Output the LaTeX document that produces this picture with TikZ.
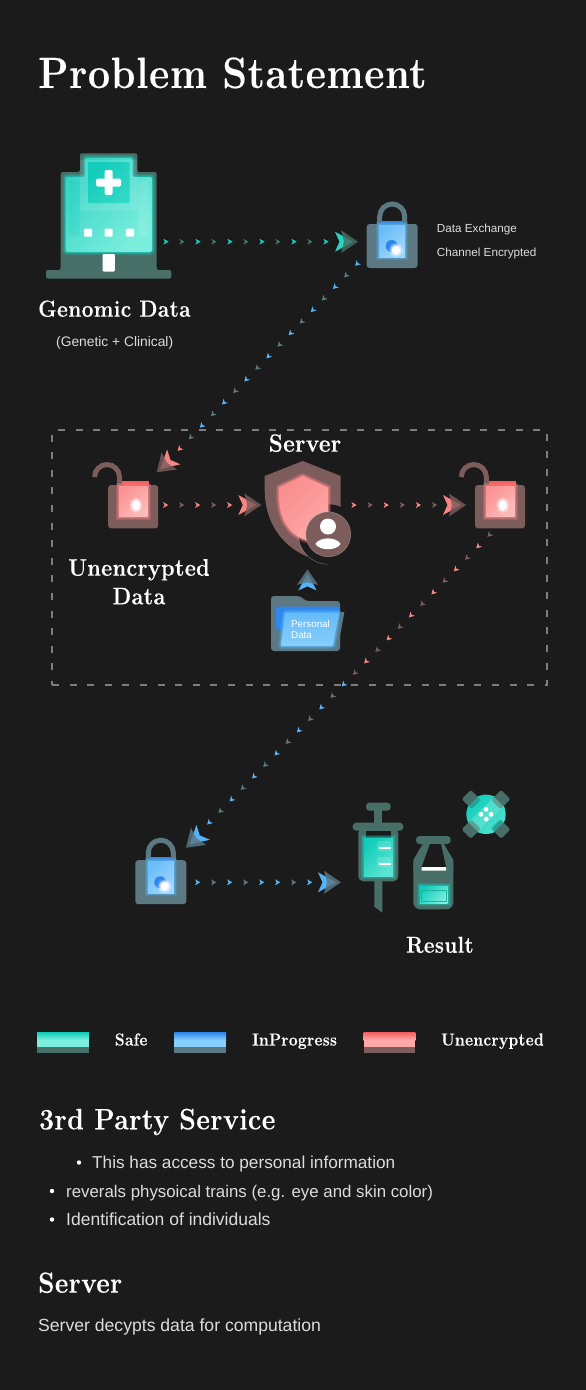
\documentclass[tikz,border=0pt]{standalone}
\usepackage{fontspec}
\setmainfont{Liberation Sans}
\newfontfamily\headf[LetterSpace=1.5,FakeStretch=.9,FakeBold=.25]{Latin Modern Roman}
\usetikzlibrary{calc,shadings}
\definecolor{bgc}{HTML}{1B1B1B}
\definecolor{tealA}{HTML}{12CDBB}
\definecolor{tealB}{HTML}{7CEEDD}
\definecolor{tealD}{HTML}{486E68}
\definecolor{blueA}{HTML}{2F86EC}
\definecolor{blueM}{HTML}{55B4F8}
\definecolor{blueB}{HTML}{86CEFC}
\definecolor{blueD}{HTML}{5B7883}
\definecolor{redA}{HTML}{F46060}
\definecolor{redM}{HTML}{F98484}
\definecolor{redB}{HTML}{FFA8A8}
\definecolor{redD}{HTML}{7D5C5C}
\definecolor{txtc}{HTML}{DCDCDC}
\definecolor{framec}{HTML}{7E7E7E}
\tikzset{
  x=1pt,y=-1pt,
  glow/.style={preaction={draw=#1,line width=6pt,draw opacity=.22},
               preaction={draw=#1,line width=4pt,draw opacity=.3},
               preaction={draw=#1,line width=2pt,draw opacity=.45}},
  grad/.style 2 args={shading=axis,top color=#1,bottom color=#2,shading angle=45},
  head/.style={anchor=base west,text=white,inner sep=0pt,font=\headf\bfseries\fontsize{#1}{#1}\selectfont},
  headc/.style={anchor=base,text=white,inner sep=0pt,align=center,font=\headf\bfseries\fontsize{#1}{#1}\selectfont},
  body/.style={anchor=base west,text=txtc,inner sep=0pt,font=\fontsize{#1}{#1}\selectfont},
  chev/.pic={\fill[#1] (-2.6,-3) -- (2.6,0) -- (-2.6,3) -- (-1.2,0) -- cycle;},
  bigarrow/.pic={
    \fill[#1] (-23,-10) -- (-5,0) -- (-23,10) -- (-18.5,0) -- cycle;},
  biggrey/.pic={
    \fill[#1,fill opacity=.82] (-17,-11.5) -- (0,0) -- (-17,11.5) -- (-14,0) -- cycle;},
  pics/lockclosed/.style n args={3}{code={
    \draw[line width=5pt,#1] (-12.5,-20) -- (-12.5,-29.5) .. controls (-12.5,-36.4) and (-6.9,-42) .. (0,-42) .. controls (6.9,-42) and (12.5,-36.4) .. (12.5,-29.5) -- (12.5,-20);
    \fill[#1,rounded corners=3pt] (-25.5,-22) rectangle (25.5,22);
    \fill[#2] (-10.5,-25.3) rectangle (10.5,-22);
    \shade[glow=#3,grad={#3!88!white}{#3!55!white}] (-13,-21) rectangle (13,11);
    \fill[#2] (-.5,0) circle (6);
    \fill[white,glow=white] (3.8,4) circle (4);
  }},
  pics/lockopen/.style n args={3}{code={
    \draw[line width=5pt,#1] (-38.7,-29.7) .. controls (-38.7,-36.6) and (-33.1,-42.2) .. (-26.2,-42.2) .. controls (-19.3,-42.2) and (-13.7,-36.6) .. (-13.7,-29.7) -- (-13.7,-20);
    \fill[#1,rounded corners=3pt] (-25,-21.7) rectangle (25,21.7);
    \fill[#2] (-11.5,-25.7) rectangle (16,-21.7);
    \shade[glow=#3,grad={#3!88!white}{#3!55!white}] (-14,-20.5) rectangle (14.5,10);
    \draw[#3!70!white,line width=.7pt] (-.5,-.7) circle (6);
    \fill[white,glow=white] (2.8,-1.4) ellipse (3.6 and 4.8);
  }},
  swatchtop/.style 2 args={shading=axis,top color=#1,bottom color=#2},
}
\newcommand\dotchain[5]{%
  \foreach \i/\c in {#5} {
    \pgfmathsetmacro\p{\i/#3}
    \pic[rotate=#4] at ($(#1)!\p!(#2)$) {chev=\c};
  }}
\begin{document}
\begin{tikzpicture}
\useasboundingbox (0,0) rectangle (586,1390);
\fill[bgc] (0,0) rectangle (586,1390);

% ---- named anchors of the connectors
\coordinate (rowAa) at (166,241.7);   \coordinate (rowAb) at (326,241.7);   \coordinate (tipA) at (358,241.7);
\coordinate (diagAa) at (357,264);    \coordinate (diagAb) at (179.5,449);  \coordinate (tipB) at (156.7,472.3);
\coordinate (rowBa) at (165.7,505);   \coordinate (rowBb) at (229.7,505);   \coordinate (tipC) at (261.3,505);
\coordinate (rowCa) at (354,505);     \coordinate (rowCb) at (434.6,505);   \coordinate (tipD) at (466,505);
\coordinate (diagBa) at (489.3,535);  \coordinate (diagBb) at (209,822.7);  \coordinate (tipE) at (186,847.7);
\coordinate (rowDa) at (197.7,882.3); \coordinate (rowDb) at (309.7,882.3); \coordinate (tipF) at (341,882.3);
\coordinate (tipG) at (307.5,569.3);

% ---- dashed server frame
\node[draw=framec,line width=1.1pt,dash pattern=on 7pt off 10.6pt,minimum width=495pt,minimum height=255pt,inner sep=0pt] (frame) at (299.5,557.5) {};

% ---- titles
\node[head=43.8] (title) at (38,88) {Problem Statement};
\node[head=23.3] (genomic) at (38,316.7) {Genomic Data};
\node[body=13.8] (genetic) at (56,346.5) {(Genetic + Clinical)};
\node[body=11.7] (exA) at (436.7,232) {Data Exchange};
\node[body=11.7] (exB) at (436.7,256) {Channel Encrypted};
\node[headc=25] (server) at (305,451.7) {Server};
\node[headc=24] (unenA) at (139,575.7) {Unencrypted};
\node[headc=24] (unenB) at (139,604.3) {Data};
\node[head=23] (result) at (406,952.7) {Result};

% ---- hospital
\fill[tealD,rounded corners=2pt] (80,153.3) -- (137.3,153.3) -- (137.3,172) -- (156.7,172) -- (156.7,270) -- (171.3,270) -- (171.3,278.5) -- (46,278.5) -- (46,270) -- (60.7,270) -- (60.7,172) -- (80,172) -- cycle;
\shade[glow=tealA,grad={tealA!85!white}{tealB},rounded corners=2pt] (85,158) -- (132.5,158) -- (132.5,177) -- (152,177) -- (152,252) -- (65.5,252) -- (65.5,177) -- (85,177) -- cycle;
\fill[white,fill opacity=.1,rounded corners=1pt] (80,160) rectangle (137.3,211);
\shade[grad={tealA}{tealA!70!tealB},rounded corners=1pt] (88,162) rectangle (129.5,203);
\fill[tealA,fill opacity=.2,rounded corners=1pt] (69,181) rectangle (79.5,235);
\fill[white,fill opacity=.1,rounded corners=1pt] (138,181) rectangle (148.5,235);
\fill[white,rounded corners=1.5pt] (104.6,170) rectangle (112.6,195);
\fill[white,rounded corners=1.5pt] (96.2,178.5) rectangle (121,186.5);
\foreach \x in {88,108.6,130} \fill[white,rounded corners=1pt] (\x-4,228.7) rectangle (\x+4,236.7);
\fill[white,rounded corners=1pt] (102.6,254) rectangle (114.8,271.5);

% ---- locks
\pic at (392.2,246) {lockclosed={blueD}{blueA}{blueM}};
\pic at (133.2,506.7) {lockopen={redD}{redA}{redM}};
\pic at (500,506.7) {lockopen={redD}{redA}{redM}};
\pic at (160.8,882.2) {lockclosed={blueD}{blueA}{blueM}};

% ---- shield
\fill[redD] (302.7,461) -- (340.7,476) -- (340.7,520) -- (330,550) -- (307,556.5) .. controls (280,545) and (264.7,520) .. (264.7,490) -- (264.7,476) -- cycle;
\fill[bgc] (328.3,534.3) circle (30);
\fill[bgc] (325,545) rectangle (345,560);
\begin{scope}
  \clip (250,455) rectangle (331,545);
  \shade[glow=redM,grad={redM!92!white}{redB}] (302.7,476) -- (328,487.5) -- (328,530) -- (306,540) .. controls (288,534) and (279,518) .. (279,495) -- (279,487.5) -- cycle;
\end{scope}
\draw[white,draw opacity=.3,line width=.6pt] (298.3,534.3) arc[start angle=180,end angle=92,radius=30];
\fill[redD] (328.3,534.3) circle (22.5);
\draw[white,draw opacity=.25,line width=.6pt] (328.3,534.3) circle (22.5);
\fill[white] (328,526.5) circle (8);
\fill[white] (315.3,544) .. controls (320,536.5) and (336,536.5) .. (340.7,544) .. controls (336,551) and (320,551) .. (315.3,544) -- cycle;

% ---- folder
\fill[blueD,rounded corners=3pt] (271,596) -- (300,596) -- (306,601) -- (340,601) -- (340,651) -- (271,651) -- cycle;
\fill[blueA,rounded corners=2pt] (276,606.5) -- (340,606.5) -- (340,620) -- (285,630) -- (278,631) -- (276,628) -- cycle;
\shade[glow=blueM,top color=blueM!90!white,bottom color=blueB,rounded corners=1pt] (285,612.5) -- (339,612.5) -- (333,646) -- (281,646) -- cycle;
\fill[blueD] (340,612) -- (344.4,612) -- (337.5,650) -- (337,650) -- cycle;
\node[body=9.8,text=white,align=left,anchor=north west] (folder) at (291,620.5) {Personal\\[.5pt]Data};

% ---- syringe
\fill[tealD,rounded corners=3.5pt] (366,802.7) rectangle (390.7,810.7);
\fill[tealD] (374.3,808) rectangle (382.3,825);
\fill[tealD,rounded corners=3.5pt] (352.7,822.7) rectangle (403.3,830.7);
\fill[tealD,rounded corners=5pt] (358.3,828) rectangle (398.3,881.3);
\fill[bgc] (366,830.7) rectangle (390.7,838);
\shade[glow=tealA,grad={tealA}{tealB!70!tealA}] (364,838) rectangle (393,876);
\fill[white,fill opacity=.15,rounded corners=2pt] (377,841) rectangle (390.7,851);
\fill[white,fill opacity=.15,rounded corners=2pt] (377,857) rectangle (390.7,867);
\fill[white] (379.3,847) rectangle (390.7,848.8);
\fill[white] (379.3,862.8) rectangle (390.7,864.6);
\fill[tealD] (374.3,880) -- (382.3,880) -- (382.3,912.7) -- (374.3,906.7) -- cycle;

% ---- vial
\fill[tealD,rounded corners=3.5pt] (416,836) rectangle (450.7,844);
\fill[tealD] (423.3,843) -- (443.3,843) -- (453.3,860) -- (453.3,870) -- (413.3,870) -- (413.3,860) -- cycle;
\fill[tealD,rounded corners=7pt] (413.3,858) rectangle (453.3,909.3);
\fill[bgc] (430,844) -- (441,844) -- (446,867) -- (421.7,867) -- cycle;
\fill[white,rounded corners=.6pt] (421.7,867) rectangle (446,870.7);
\shade[glow=tealA,grad={tealA}{tealB}] (420,886) rectangle (447.5,903);
\draw[tealA!70!tealD,line width=.5pt] (421.7,890.7) rectangle (446,901.7);

% ---- band-aid
\begin{scope}[shift={(486,814.3)}]
  \shade[grad={tealA}{tealB!60!tealA}] (0,0) circle (19.7);
  \fill[tealD,rotate=45,rounded corners=2pt] (-27.9,-6.5) rectangle (-14,6.5);
  \fill[tealD,rotate=45,rounded corners=2pt] (14,-6.5) rectangle (27.9,6.5);
  \fill[tealD,rotate=-45,rounded corners=2pt] (-27.9,-6.5) rectangle (-14,6.5);
  \fill[tealD,rotate=-45,rounded corners=2pt] (14,-6.5) rectangle (27.9,6.5);
  \fill[tealB,fill opacity=.4,rotate=45] (-18,-6.5) rectangle (18,6.5);
  \fill[tealA,fill opacity=.55,rotate=-45] (-18,-6.5) rectangle (-13,6.5);
  \fill[tealA,fill opacity=.55,rotate=-45] (13,-6.5) rectangle (18,6.5);
  \foreach \a/\b in {0/-5,5/0,.3/4.7,-5/0} \fill[white] (\a,\b) circle (2.4);
\end{scope}

% ---- connectors
\dotchain{rowAa}{rowAb}{10}{0}{0/tealA,1/tealD,2/tealA,3/tealD,4/tealA,5/tealD,6/tealA,7/tealD,8/tealA,9/tealD,10/tealA}
\pic at (tipA) {bigarrow=tealA!80!tealB};
\pic at (tipA) {biggrey=tealD};
\dotchain{diagAa}{diagAb}{16}{225}{0/blueM,1/blueD,2/blueM,3/blueD,4/blueM,5/blueD,6/blueM,7/blueD,8/blueM,9/blueD,10/blueM,11/blueD,12/blueM,13/blueD,14/blueM,15/blueD,16/redM}
\pic[rotate=222] at (tipB) {bigarrow=redM};
\pic[rotate=222] at (tipB) {biggrey=redD};
\dotchain{rowBa}{rowBb}{4}{0}{0/redM,1/redD,2/redM,3/redD,4/redM}
\pic at (tipC) {bigarrow=redM};
\pic at (tipC) {biggrey=redD};
\dotchain{rowCa}{rowCb}{5}{0}{0/redM,1/redD,2/redM,3/redD,4/redM,5/redD}
\pic at (tipD) {bigarrow=redM};
\pic at (tipD) {biggrey=redD};
\dotchain{diagBa}{diagBb}{25}{225}{0/redD,1/redM,2/redD,3/redM,4/redD,5/redM,6/redD,7/redM,8/redD,9/redM,10/redD,11/redM,12/redD,13/blueM,14/blueD,15/blueM,16/blueD,17/blueM,18/blueD,19/blueM,20/blueD,21/blueM,22/blueD,23/blueM,24/blueD,25/blueM}
\pic[rotate=222] at (tipE) {bigarrow=blueM};
\pic[rotate=222] at (tipE) {biggrey=blueD};
\dotchain{rowDa}{rowDb}{7}{0}{0/blueM,1/blueD,2/blueM,3/blueD,4/blueM,5/blueM,6/blueD,7/blueM}
\pic at (tipF) {bigarrow=blueM};
\pic at (tipF) {biggrey=blueD};
\pic[rotate=90,scale=.92] at (tipG) {bigarrow=blueM};
\pic[rotate=90,scale=.92] at (tipG) {biggrey=blueD};

% ---- legend
\foreach \x/\a/\b/\d in {37.2/tealA/tealB/tealD,174.3/blueA/blueB/blueD,363.7/redA/redB/redD}{
  \shade[swatchtop={\a}{\b}] (\x,1032.4) rectangle (\x+51.7,1040);
  \fill[\b] (\x,1039.9) rectangle (\x+51.7,1047);
  \fill[\d] (\x,1046.9) rectangle (\x+51.7,1052.7);
}
\node[head=17.4] (lsafe) at (114.7,1045.5) {Safe};
\node[head=17.4] (lprog) at (252,1045.5) {InProgress};
\node[head=17.4] (lunen) at (441,1045.5) {Unencrypted};

% ---- text below
\node[head=29.5] (third) at (39,1129.3) {3rd Party Service};
\node[body=17.2] (bA) at (92,1168.3) {This has access to personal information};
\node[body=16.85] (bB) at (66,1197) {reverals physoical trains (e.g. eye and skin color)};
\node[body=17.5] (bC) at (66,1225) {Identification of individuals};
\fill[white] (79,1162.5) circle (2.2);
\fill[white] (52,1191) circle (2.2);
\fill[white] (52,1219.5) circle (2.2);
\node[head=29] (srv2) at (38,1292.7) {Server};
\node[body=17.6] (srvt) at (38,1331.7) {Server decypts data for computation};
\end{tikzpicture}
\end{document}
